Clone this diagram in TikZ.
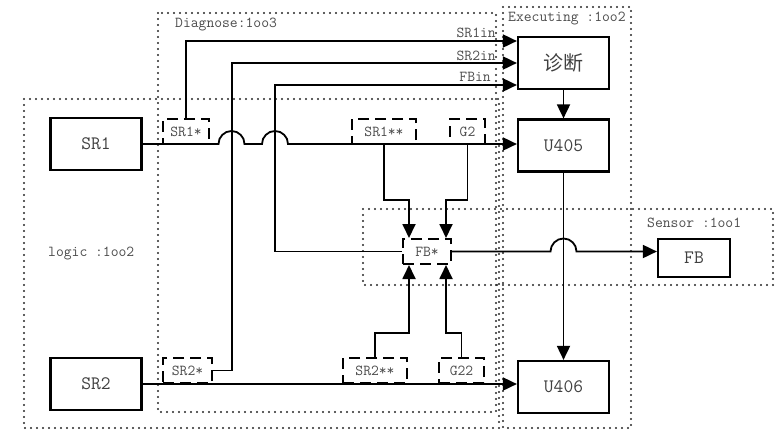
\documentclass[tikz,border=0pt]{standalone}
\usepackage{fontspec}
\newfontfamily\cjk{Noto Sans CJK SC}
\usetikzlibrary{arrows.meta}
\begin{document}
\begin{tikzpicture}[x=1pt,y=-1pt,
  region/.style={line width=2.1pt, dash pattern=on 0pt off 6pt, line cap=round, black!85},
  solidbox/.style={draw, line width=2.2pt, minimum width=91pt, minimum height=52pt, inner sep=0pt,
    text=black!75, font=\ttfamily\fontsize{19}{20}\selectfont},
  dbox/.style={draw, line width=2pt, dash pattern=on 11pt off 6pt, minimum height=25pt, inner sep=0pt,
    text=black!70, font=\ttfamily\fontsize{15.2}{16}\selectfont},
  conn/.style={line width=1.8pt},
  arr/.style={conn, -{Triangle[length=14pt,width=13pt]}},
  lbl/.style={font=\ttfamily\fontsize{15.2}{16}\selectfont, inner sep=0pt, text=black!70}]
\useasboundingbox (0,0) rectangle (775,429);

% dotted regions
\draw[region] (158,13) rectangle (496,412);
\draw[region] (24,99) rectangle (499,428);
\draw[region] (503,7) rectangle (631,428);
\draw[region] (363,209) rectangle (773,285);

% region labels
\node[lbl, anchor=west] (tDiag) at (175,25) {Diagnose:1oo3};
\node[lbl, anchor=west] (tLogic) at (48,253) {logic :1oo2};
\node[lbl, anchor=west] (tExec) at (508,19) {Executing :1oo2};
\node[lbl, anchor=west] (tSens) at (647,223) {Sensor :1oo1};

% solid boxes
\node[solidbox] (SR1) at (96,144) {SR1};
\node[solidbox] (SR2) at (96,384) {SR2};
\node[solidbox, font=\cjk\fontsize{20}{22}\selectfont] (diag) at (563.5,63) {诊断};
\node[solidbox] (U405) at (563.5,145.5) {U405};
\node[solidbox] (U406) at (563.5,387) {U406};
\node[solidbox, minimum width=72pt, minimum height=38pt] (FB) at (694,258) {FB};

% dashed boxes
\node[dbox, minimum width=46pt] (SR1s) at (186,131.5) {SR1*};
\node[dbox, minimum width=64pt] (SR1ss) at (384,131.5) {SR1**};
\node[dbox, minimum width=35pt] (G2) at (467.5,131.5) {G2};
\node[dbox, minimum width=48pt] (FBs) at (427,251.5) {FB*};
\node[dbox, minimum width=49pt] (SR2s) at (187.5,370.5) {SR2*};
\node[dbox, minimum width=64pt] (SR2ss) at (375,370.5) {SR2**};
\node[dbox, minimum width=45pt] (G22) at (461.5,370.5) {G22};

% input labels
\node[lbl, anchor=east] (tS1) at (496,33) {SR1in};
\node[lbl, anchor=east] (tS2) at (496,56) {SR2in};
\node[lbl, anchor=east] (tF) at (491,77) {FBin};

% connectors
\draw[arr] (SR1.east) -- (218.5,144) arc[start angle=180,end angle=0,radius=13pt]
  -- (262,144) arc[start angle=180,end angle=0,radius=13pt] -- (U405.west |- SR1.east);
\draw[arr] (SR2.east) -- (U406.west |- SR2.east);
\draw[arr] (SR1s.north) |- ([yshift=22pt]diag.west);
\draw[arr] (SR2s.east) -| (232,63) -- (diag.west);
\draw[arr] (FBs.west) -| (275,85) -- ([yshift=-22pt]diag.west);
\draw[arr] (SR1ss.south) -- (384,200) -| ([xshift=-18pt]FBs.north);
\draw[arr] (G2.south) -- (467.5,200) -| ([xshift=19pt]FBs.north);
\draw[arr] (SR2ss.north) -- (375,333) -| ([xshift=-18pt]FBs.south);
\draw[arr] (G22.north) -- (461.5,333) -| ([xshift=19pt]FBs.south);
\draw[arr] (diag.south) -- (U405.north);
\draw[arr] (U405.south) -- (U406.north);
\draw[arr] (FBs.east) -- (550.5,251.5) arc[start angle=180,end angle=0,radius=13pt]
  -- (FB.west |- FBs.east);
\end{tikzpicture}
\end{document}
